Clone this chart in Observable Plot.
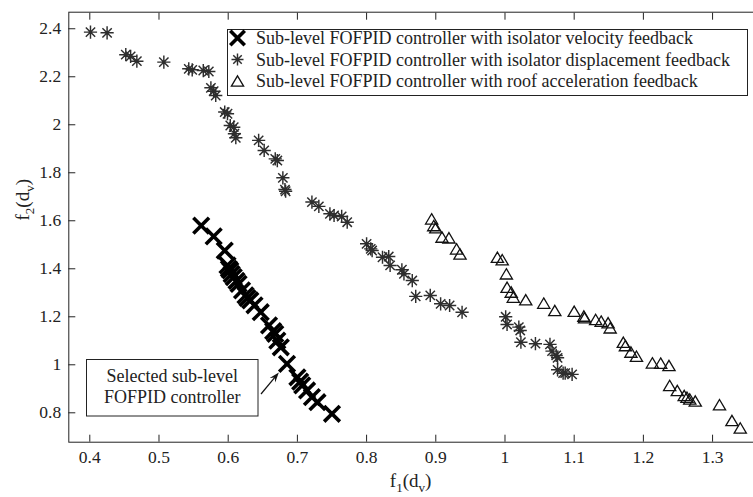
<!DOCTYPE html>
<html><head><meta charset="utf-8">
<script src="https://cdn.jsdelivr.net/npm/d3@7"></script>
<script src="https://cdn.jsdelivr.net/npm/@observablehq/plot@0.6"></script>
<style>
body{margin:0;background:#fff;}
#wrap{position:relative;width:753px;height:497px;overflow:hidden;}
#overlay{position:absolute;left:0;top:0;pointer-events:none;}
</style></head>
<body><div id="wrap"></div>
<script>
// ---- data: [f1(dv), f2(dv)] ----
const velocityFeedback = [
 [0.561,1.580],[0.579,1.535],[0.595,1.476],[0.599,1.414],[0.601,1.400],[0.603,1.393],[0.605,1.378],
 [0.608,1.365],[0.612,1.350],[0.615,1.337],[0.620,1.310],[0.625,1.289],[0.628,1.278],[0.632,1.268],
 [0.638,1.248],[0.647,1.219],[0.659,1.164],[0.665,1.140],[0.668,1.129],[0.671,1.101],[0.676,1.073],
 [0.685,1.004],[0.700,0.948],[0.704,0.930],[0.707,0.914],[0.714,0.893],[0.721,0.865],[0.729,0.844],
 [0.750,0.796]
];
const displacementFeedback = [
 [0.401,2.386],[0.425,2.383],[0.452,2.292],[0.459,2.285],[0.468,2.265],[0.507,2.261],[0.543,2.233],
 [0.548,2.229],[0.564,2.226],[0.572,2.222],[0.575,2.154],[0.579,2.140],[0.582,2.122],[0.595,2.053],
 [0.599,2.046],[0.603,1.997],[0.608,1.990],[0.609,1.963],[0.611,1.946],[0.644,1.935],[0.652,1.893],
 [0.668,1.858],[0.671,1.851],[0.679,1.779],[0.682,1.730],[0.683,1.723],[0.721,1.678],[0.731,1.660],
 [0.747,1.629],[0.753,1.622],[0.764,1.618],[0.772,1.594],[0.800,1.504],[0.806,1.483],[0.808,1.476],
 [0.823,1.448],[0.832,1.451],[0.834,1.414],[0.851,1.396],[0.854,1.379],[0.866,1.351],[0.871,1.285],
 [0.892,1.289],[0.907,1.254],[0.920,1.247],[0.938,1.219],[1.001,1.200],[1.003,1.168],[1.020,1.157],
 [1.022,1.143],[1.023,1.094],[1.044,1.088],[1.065,1.085],[1.068,1.057],[1.074,1.039],[1.076,1.029],
 [1.076,0.979],[1.084,0.965],[1.087,0.965],[1.097,0.960]
];
const roofAccelerationFeedback = [
 [0.894,1.608],[0.897,1.580],[0.900,1.571],[0.909,1.532],[0.919,1.529],[0.930,1.483],[0.935,1.462],
 [0.989,1.448],[0.996,1.438],[1.002,1.379],[1.003,1.323],[1.009,1.303],[1.012,1.282],[1.030,1.271],
 [1.056,1.257],[1.072,1.226],[1.100,1.223],[1.114,1.203],[1.115,1.196],[1.131,1.189],[1.139,1.182],
 [1.149,1.175],[1.152,1.154],[1.171,1.094],[1.174,1.080],[1.182,1.053],[1.190,1.036],[1.213,1.008],
 [1.225,1.007],[1.237,0.997],[1.238,0.914],[1.249,0.893],[1.259,0.872],[1.263,0.865],[1.267,0.858],
 [1.275,0.849],[1.310,0.834],[1.328,0.768],[1.340,0.737]
];
const selectedIndex = 21; // selected sub-level controller in velocityFeedback
const xTicks = [0.4,0.5,0.6,0.7,0.8,0.9,1.0,1.1,1.2,1.3];
const yTicks = [0.8,1.0,1.2,1.4,1.6,1.8,2.0,2.2,2.4];
const seriesLabels = [
 "Sub-level FOFPID controller with isolator velocity feedback",
 "Sub-level FOFPID controller with isolator displacement feedback",
 "Sub-level FOFPID controller with roof acceleration feedback"
];
const annotationLines = ["Selected sub-level", "FOFPID controller"];

// ---- symbols ----
const fmt = d => String(+d.toFixed(1));
const star = {draw(c, size){const r=Math.sqrt(size/Math.PI), d=r*Math.SQRT1_2;
  c.moveTo(-r,0);c.lineTo(r,0);c.moveTo(0,-r);c.lineTo(0,r);
  c.moveTo(-d,-d);c.lineTo(d,d);c.moveTo(-d,d);c.lineTo(d,-d);}};
const tri = {draw(c, size){const r=Math.sqrt(size/Math.PI), w=r*1.3, h=r*1.1;
  c.moveTo(0,-h);c.lineTo(w,h);c.lineTo(-w,h);c.closePath();}};

const FONT = "'Liberation Serif','Times New Roman',serif";
const INK = "#222";
const STAR_R = 6.6, TRI_R = 4.7, X_R = 7.2;

const plot = Plot.plot({
  width: 753, height: 497,
  marginLeft: 68.3, marginRight: -8, marginTop: 11.7, marginBottom: 55.3,
  style: {fontFamily: FONT, fontSize: "17.5px", color: INK, background: "white"},
  x: {domain: [0.36965, 1.3707]},
  y: {domain: [0.6775, 2.469]},
  marks: [
    Plot.frame({stroke: INK, strokeWidth: 1}),
    Plot.axisX(xTicks, {anchor: "bottom", tickSize: -7, tickPadding: 15.7, tickFormat: fmt, label: null, fontSize: 17.5}),
    Plot.axisX(xTicks, {anchor: "top", tickSize: -7, tickFormat: () => "", label: null}),
    Plot.axisY(yTicks, {anchor: "left", tickSize: -7, tickPadding: 14.6, tickFormat: fmt, label: null, fontSize: 17.5}),
    Plot.dot(displacementFeedback, {x: d => d[0], y: d => d[1], symbol: star, r: STAR_R, fill: "none", stroke: "#2e2e2e", strokeWidth: 1.45}),
    Plot.dot(roofAccelerationFeedback, {x: d => d[0], y: d => d[1], symbol: tri, r: TRI_R, fill: "none", stroke: "#111", strokeWidth: 1.3}),
    Plot.dot(velocityFeedback, {x: d => d[0], y: d => d[1], symbol: "times", r: X_R, stroke: "#000", strokeWidth: 3.6}),
    Plot.text(["f1(dv)"], {frameAnchor: "bottom", dx: -4.6, dy: 45, fontSize: 19, fill: INK}),
    Plot.text(["f2(dv)"], {frameAnchor: "left", dx: -46, dy: -6.7, rotate: -90, fontSize: 19, fill: INK})
  ]
});
const wrap = document.getElementById("wrap");
wrap.appendChild(plot);

// subscripts in axis titles
plot.querySelectorAll("text").forEach(t => {
  const s = t.textContent;
  if (s === "f1(dv)" || s === "f2(dv)") {
    const n = s[1];
    t.innerHTML = `f<tspan dy="5" font-size="13">${n}</tspan><tspan dy="-5">(d</tspan><tspan dy="5" font-size="13">v</tspan><tspan dy="-5">)</tspan>`;
  }
});

// ---- overlay: legend + annotation ----
const ov = d3.select(wrap).append("svg").attr("id","overlay").attr("width",753).attr("height",497)
  .style("font-family", FONT);

// legend
const lg = ov.append("g");
lg.append("rect").attr("x",227.5).attr("y",29.5).attr("width",520).attr("height",66)
  .attr("fill","white").attr("stroke",INK);
const baselines = [44, 65.5, 87];
const shift = (p,cx,cy) => ({moveTo:(a,b)=>p.moveTo(cx+a,cy+b),lineTo:(a,b)=>p.lineTo(cx+a,cy+b),closePath:()=>p.closePath()});
const symPaths = [
  (g,cx,cy) => { const p=d3.path(); d3.symbolTimes.draw(shift(p,cx,cy), Math.PI*X_R*X_R*0.85);
     g.append("path").attr("d",p.toString()).attr("stroke","#000").attr("stroke-width",3.6).attr("fill","none"); },
  (g,cx,cy) => { const p=d3.path(); star.draw(shift(p,cx,cy), Math.PI*36);
     g.append("path").attr("d",p.toString()).attr("stroke","#2e2e2e").attr("stroke-width",1.45).attr("fill","none"); },
  (g,cx,cy) => { const p=d3.path(); tri.draw(shift(p,cx,cy), Math.PI*TRI_R*TRI_R);
     g.append("path").attr("d",p.toString()).attr("stroke","#111").attr("stroke-width",1.3).attr("fill","none"); }
];
seriesLabels.forEach((lab,i) => {
  symPaths[i](lg, 237.5, baselines[i]-6);
  lg.append("text").attr("x",256).attr("y",baselines[i]).attr("font-size",18).attr("fill",INK).text(lab);
});

// annotation box
const an = ov.append("g");
an.append("rect").attr("x",86.5).attr("y",359.5).attr("width",171.5).attr("height",56.5)
  .attr("fill","white").attr("stroke",INK);
annotationLines.forEach((l,i) => an.append("text").attr("x",172.3).attr("y",[381.5,402.7][i])
  .attr("text-anchor","middle").attr("font-size",18).attr("fill",INK).text(l));

// arrow pointing at selected point (located through Plot's scales)
const sel = velocityFeedback[selectedIndex];
const px = plot.scale("x").apply(sel[0]), py = plot.scale("y").apply(sel[1]);
const tx = 261, ty = 394;
const dxA = px - tx, dyA = py - ty, L = Math.hypot(dxA, dyA), ux = dxA/L, uy = dyA/L;
const hx = px - ux*12, hy = py - uy*12;
an.append("line").attr("x1",tx).attr("y1",ty).attr("x2",hx - ux*4).attr("y2",hy - uy*4)
  .attr("stroke","#111").attr("stroke-width",1.2);
const hl = 10, hw = 3.6, bx = hx - ux*hl, by = hy - uy*hl;
an.append("path").attr("d",`M${hx},${hy}L${bx - uy*hw},${by + ux*hw}L${hx - ux*hl*0.65},${hy - uy*hl*0.65}L${bx + uy*hw},${by - ux*hw}Z`)
  .attr("fill","#111");
</script></body></html>
